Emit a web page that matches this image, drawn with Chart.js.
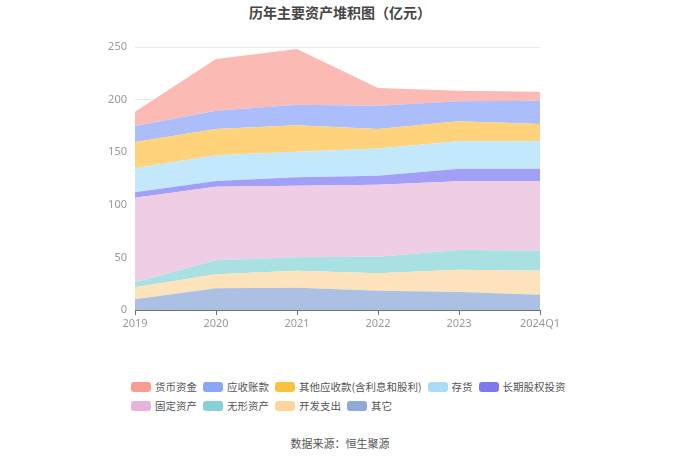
<!DOCTYPE html>
<html>
<head>
<meta charset="utf-8">
<script src="https://cdn.jsdelivr.net/npm/chart.js@4.4.0/dist/chart.umd.min.js"></script>
<style>
  body { margin: 0; background: #fff; font-family: "Noto Sans CJK SC", "Noto Sans", sans-serif; }
  #wrap { position: relative; width: 680px; height: 460px; }
  #title { position: absolute; top: 2px; left: 0; width: 680px; text-align: center;
           font-size: 14px; font-weight: bold; color: #464646; }
  #chartBox { position: absolute; top: 0; left: 0; width: 680px; height: 340px; }
  #legend { position: absolute; top: 377px; left: 131px; width: 480px;
            display: flex; flex-wrap: wrap; font-size: 10.5px; color: #555; line-height: 19px; }
  .item { display: flex; align-items: center; margin-right: 6px; white-space: nowrap; }
  .sw { width: 20px; height: 10px; border-radius: 3px; margin-right: 4px; }
  #source { position: absolute; top: 435px; left: 0; width: 680px; text-align: center;
            font-size: 11px; color: #555; }
</style>
</head>
<body>
<div id="wrap">
  <div id="title">历年主要资产堆积图（亿元）</div>
  <div id="chartBox"><canvas id="myChart"></canvas></div>
  <div id="legend"></div>
  <div id="source">数据来源：恒生聚源</div>
</div>
<script>
// categories
let years = ["2019", "2020", "2021", "2022", "2023", "2024Q1"];

// series values (亿元), bottom of stack first
let other       = [10.2, 20.6, 21.2, 18.4, 17.1, 14.6];  // 其它
let devCost     = [11.4, 13.3, 16.2, 16.5, 21.2, 22.8];  // 开发支出
let intangible  = [4.7, 13.3, 12.7, 15.8, 18.7, 19.0];   // 无形资产
let fixedAssets = [80.5, 70.0, 68.1, 68.4, 65.3, 65.9];  // 固定资产
let ltEquity    = [5.1, 5.4, 7.9, 8.6, 12.0, 12.0];      // 长期股权投资
let inventory   = [22.8, 24.4, 24.4, 25.7, 26.0, 26.0];  // 存货
let otherRecv   = [25.0, 25.1, 25.0, 18.7, 19.1, 16.5];  // 其他应收款
let accRecv     = [15.2, 17.4, 19.7, 22.1, 19.0, 22.2];  // 应收账款
let cash        = [13.6, 49.1, 52.9, 16.8, 10.1, 8.5];   // 货币资金

let yTicks = [0, 50, 100, 150, 200, 250];

/** one stacked area layer */
function area_set(name, data, fillColor, legendColor, first) {
    return {
        label: name,
        data: data,
        backgroundColor: fillColor,
        legendColor: legendColor,
        borderWidth: 0,
        pointRadius: 0,
        pointHoverRadius: 0,
        tension: 0,
        fill: first ? 'origin' : '-1',
    }
}

let datasets = [
    area_set("其它", other, "#abc0e2", "#8eaadb", true),
    area_set("开发支出", devCost, "#fde3bb", "#fed59c", false),
    area_set("无形资产", intangible, "#a9e1e2", "#84d2d5", false),
    area_set("固定资产", fixedAssets, "#efcde5", "#e5b4d8", false),
    area_set("长期股权投资", ltEquity, "#a29ff6", "#7c78ee", false),
    area_set("存货", inventory, "#c3e8fb", "#aadcf7", false),
    area_set("其他应收款(含利息和股利)", otherRecv, "#fed37c", "#fcc23f", false),
    area_set("应收账款", accRecv, "#abbefb", "#8ca6f6", false),
    area_set("货币资金", cash, "#fbbab3", "#f99c92", false),
];

// legend, top of stack first
let legend = document.getElementById('legend');
datasets.slice().reverse().forEach(ds => {
    let it = document.createElement('div');
    it.className = 'item';
    it.innerHTML = '<span class="sw" style="background:' + ds.legendColor + '"></span>' + ds.label;
    legend.appendChild(it);
});

let ctx = document.getElementById('myChart').getContext('2d');
let myChart = new Chart(ctx, {
    type: 'line',
    data: { labels: years, datasets: datasets },
    options: {
        responsive: true,
        maintainAspectRatio: false,
        animation: false,
        layout: { padding: { left: 95, right: 140, top: 47, bottom: 10 } },
        plugins: {
            legend: { display: false },
            tooltip: { enabled: false },
        },
        scales: {
            x: {
                offset: false,
                grid: { drawOnChartArea: false, color: '#6e7079', tickLength: 5 },
                border: { color: '#6e7079' },
                ticks: { color: '#999', font: { size: 11, family: 'Noto Sans' }, padding: 2, maxRotation: 0 },
                afterFit: s => { s.height = 20; },
            },
            y: {
                stacked: true,
                min: 0,
                max: 250,
                afterBuildTicks: s => { s.ticks = yTicks.map(v => ({ value: v })); },
                grid: { color: '#e9e9e9', drawTicks: false },
                border: { display: false },
                ticks: { color: '#999', font: { size: 11, family: 'Noto Sans' }, padding: 8 },
                afterFit: s => { s.width = 40; },
            }
        }
    }
});
</script>
</body>
</html>
